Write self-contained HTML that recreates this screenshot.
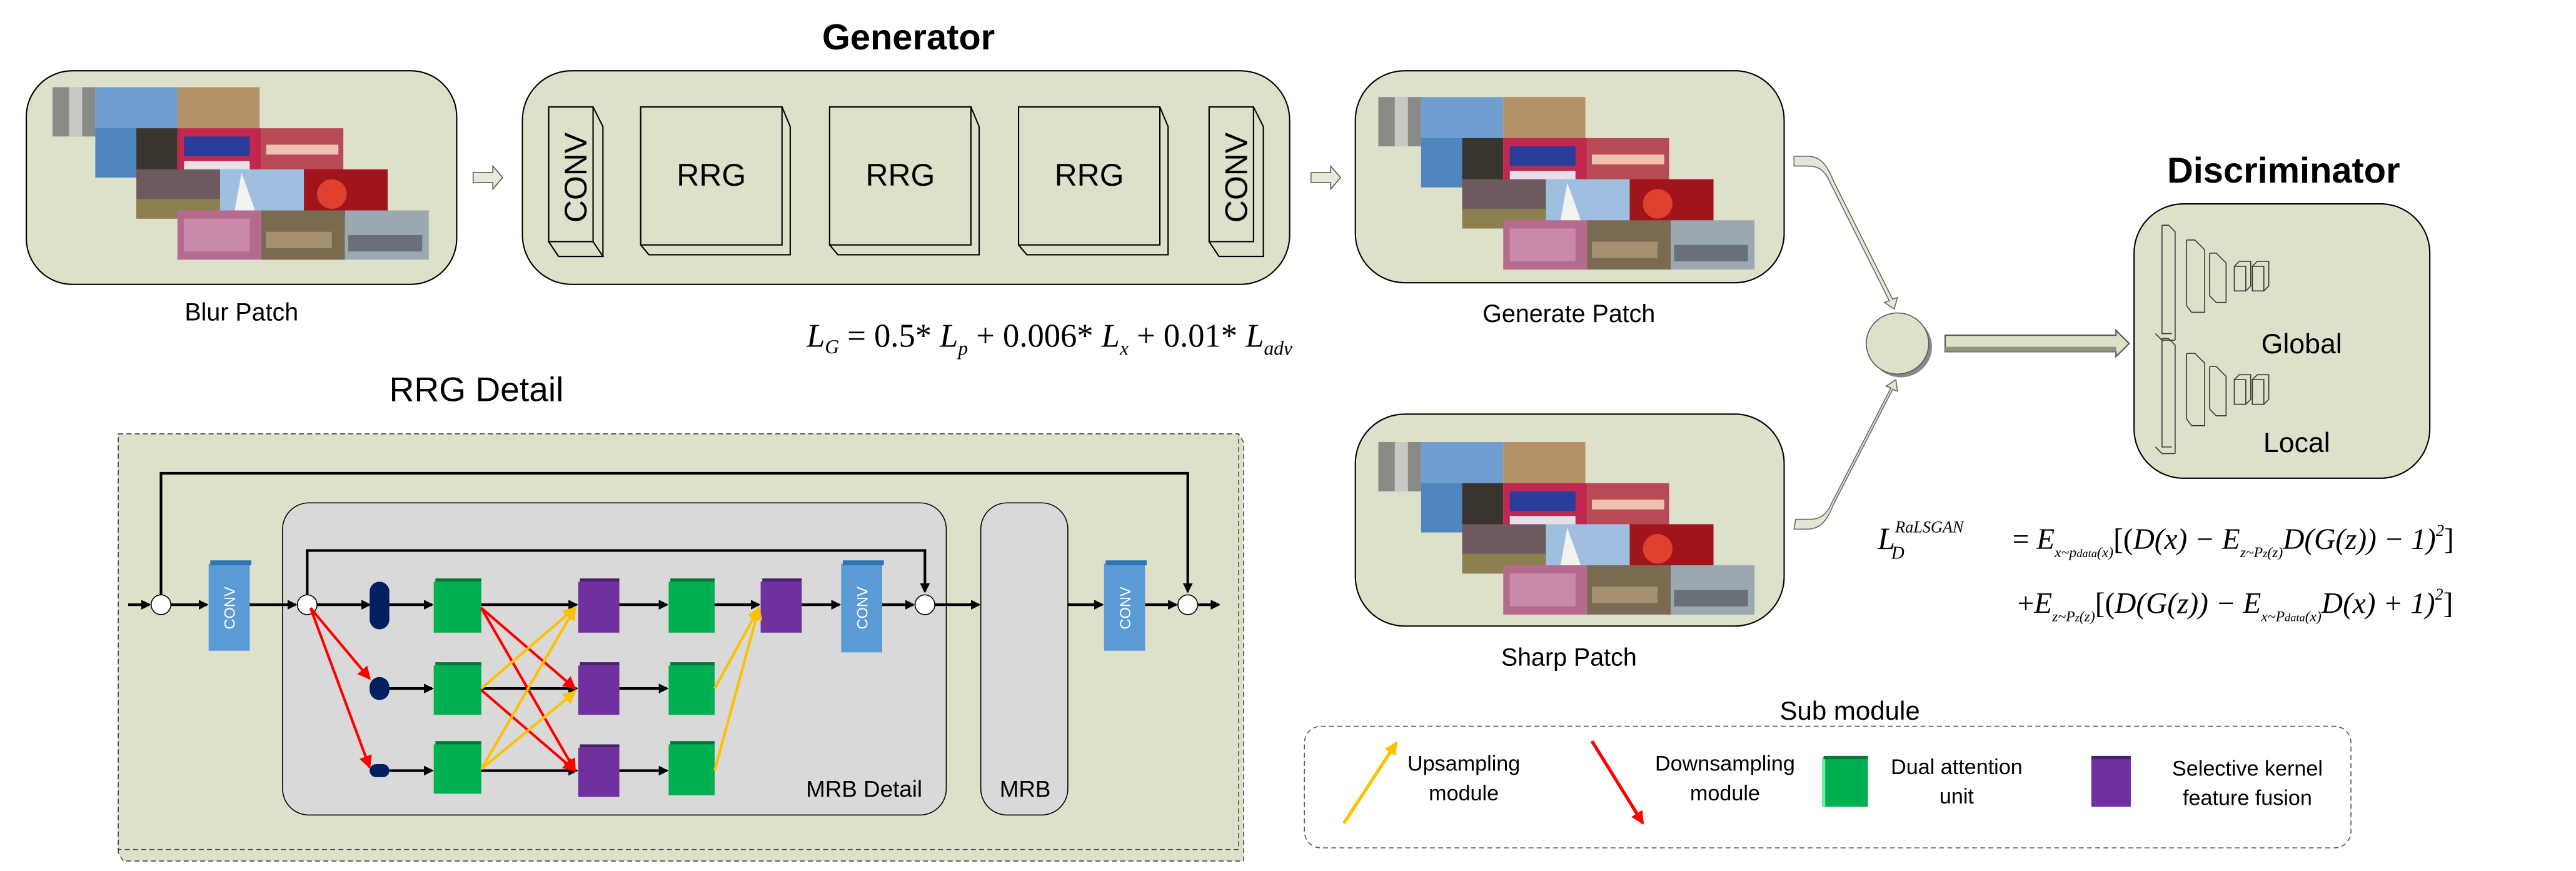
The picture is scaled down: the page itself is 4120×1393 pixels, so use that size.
<!DOCTYPE html>
<html><head><meta charset="utf-8"><style>
html,body{margin:0;padding:0;background:#fff}
svg{display:block}
text{font-family:"Liberation Sans",sans-serif}
.s{font-family:"Liberation Serif",serif;font-style:italic}
</style></head><body>
<svg width="4120" height="1393" viewBox="0 0 1568 530" xmlns="http://www.w3.org/2000/svg">
<defs>
<marker id="ab" markerWidth="6" markerHeight="6" refX="5" refY="3" orient="auto" markerUnits="userSpaceOnUse"><path d="M0,0L6,3L0,6z" fill="#000"/></marker>
<marker id="ar" markerWidth="8" markerHeight="8" refX="7" refY="4" orient="auto" markerUnits="userSpaceOnUse"><path d="M0,0L8,4L0,8z" fill="#f00"/></marker>
<marker id="ao" markerWidth="8" markerHeight="8" refX="7" refY="4" orient="auto" markerUnits="userSpaceOnUse"><path d="M0,0L8,4L0,8z" fill="#ffc000"/></marker>
<g id="mosaic">
<rect x="0" y="0" width="26" height="30" fill="#8a8a86"/><rect x="10" y="0" width="8" height="30" fill="#c8c8c4"/>
<rect x="26" y="0" width="50" height="30" fill="#6f9fd0"/>
<rect x="76" y="0" width="50" height="30" fill="#b5916a"/>
<rect x="26" y="25" width="25" height="30" fill="#4f86c0"/><rect x="51" y="25" width="25" height="30" fill="#3a342f"/>
<rect x="76" y="25" width="51" height="30" fill="#c0284f"/><rect x="80" y="30" width="40" height="12" fill="#2b3d9a"/><rect x="80" y="45" width="40" height="8" fill="#e8e0e8"/>
<rect x="127" y="25" width="50" height="30" fill="#b84a55"/><rect x="130" y="35" width="44" height="6" fill="#f0c0b0"/>
<rect x="51" y="50" width="51" height="30" fill="#6e5a5e"/><rect x="51" y="68" width="51" height="12" fill="#8c8050"/>
<rect x="102" y="50" width="51" height="30" fill="#9fbfe0"/><path d="M115,52L125,80L110,80z" fill="#f2f2ee"/>
<rect x="153" y="50" width="51" height="30" fill="#a0141c"/><circle cx="170" cy="65" r="9" fill="#e04030"/>
<rect x="76" y="75" width="51" height="30" fill="#b56a90"/><rect x="80" y="80" width="40" height="20" fill="#c98aa8"/>
<rect x="127" y="75" width="51" height="30" fill="#7a6a52"/><rect x="130" y="88" width="40" height="10" fill="#a59070"/>
<rect x="178" y="75" width="51" height="30" fill="#9ca8b0"/><rect x="180" y="90" width="45" height="10" fill="#6a7078"/>
</g>
</defs>

<!-- titles -->
<text x="553" y="30" font-size="22" font-weight="bold" text-anchor="middle">Generator</text>
<text x="1390" y="111" font-size="22" font-weight="bold" text-anchor="middle">Discriminator</text>
<text x="290" y="244" font-size="21" text-anchor="middle">RRG Detail</text>

<!-- Blur patch -->
<rect x="16" y="43" width="262" height="130" rx="28" fill="#dee1ca" stroke="#000" stroke-width="0.8"/>
<use href="#mosaic" transform="translate(32,53) scale(1.0,1.0)"/>
<text x="147" y="195" font-size="15" text-anchor="middle">Blur Patch</text>
<path d="M288,105h12v-4l6,7l-6,7v-4h-12z" fill="#e8ead8" stroke="#555" stroke-width="0.6"/>

<!-- Generator -->
<rect x="318" y="43" width="467" height="130" rx="30" fill="#dee1ca" stroke="#000" stroke-width="0.8"/>
<g fill="#dee1ca" stroke="#000" stroke-width="0.8">
<path d="M334,65h27l6,12v79h-27l-6-9z"/><rect x="334" y="65" width="27" height="82"/><path d="M334,147l6,9h27l-6-9z"/>
<path d="M390,65h86l5,12v78h-86l-5-6z"/><rect x="390" y="65" width="86" height="84"/>
<path d="M505,65h86l5,12v78h-86l-5-6z"/><rect x="505" y="65" width="86" height="84"/>
<path d="M620,65h86l5,12v78h-86l-5-6z"/><rect x="620" y="65" width="86" height="84"/>
<path d="M736,65h27l6,12v79h-27l-6-9z"/><rect x="736" y="65" width="27" height="82"/>
</g>
<text transform="translate(357,108) rotate(-90)" font-size="19" text-anchor="middle">CONV</text>
<text transform="translate(759,108) rotate(-90)" font-size="19" text-anchor="middle">CONV</text>
<text x="433" y="113" font-size="19" text-anchor="middle">RRG</text>
<text x="548" y="113" font-size="19" text-anchor="middle">RRG</text>
<text x="663" y="113" font-size="19" text-anchor="middle">RRG</text>
<path d="M798,105h12v-4l6,7l-6,7v-4h-12z" fill="#e8ead8" stroke="#555" stroke-width="0.6"/>

<text x="491" y="211" class="s" font-size="20">L<tspan font-size="12" dy="4">G</tspan><tspan dy="-4" font-style="normal"> = 0.5* </tspan>L<tspan font-size="12" dy="5">p</tspan><tspan dy="-5" font-style="normal"> + 0.006* </tspan>L<tspan font-size="12" dy="5">x</tspan><tspan dy="-5" font-style="normal"> + 0.01* </tspan>L<tspan font-size="12" dy="5">adv</tspan></text>

<!-- Generate & Sharp -->
<rect x="825" y="43" width="261" height="129" rx="30" fill="#dee1ca" stroke="#000" stroke-width="0.8"/>
<use href="#mosaic" transform="translate(839,59)"/>
<text x="955" y="196" font-size="15" text-anchor="middle">Generate Patch</text>
<rect x="825" y="252" width="261" height="129" rx="30" fill="#dee1ca" stroke="#000" stroke-width="0.8"/>
<use href="#mosaic" transform="translate(839,269)"/>
<text x="955" y="405" font-size="15" text-anchor="middle">Sharp Patch</text>

<!-- curved arrows -->
<path d="M1092,95h8c8,0 12,5 16,15l36,72l3,-1l-2,7l-6,-4l3,-1l-36,-72c-3,-7 -7,-10 -13,-10h-9z" fill="#e3e6d2" stroke="#666" stroke-width="0.6"/>
<path d="M1092,322h8c8,0 12,-5 16,-15l36,-70l3,1l-1,-7l-6,4l3,1l-36,70c-3,7 -7,10 -13,10h-9z" fill="#e3e6d2" stroke="#666" stroke-width="0.6"/>
<ellipse cx="1157" cy="211" rx="19" ry="18.6" fill="#888"/>
<ellipse cx="1155" cy="209" rx="19" ry="18.6" fill="#dee1ca" stroke="#555" stroke-width="0.6"/>
<path d="M1184,204h104v-3l8,8l-8,8v-3h-104z" fill="#dee1ca" stroke="#555" stroke-width="0.8"/>
<rect x="1184" y="211" width="104" height="3" fill="#8f9480"/>

<!-- Discriminator -->
<rect x="1299" y="124" width="180" height="167" rx="30" fill="#dee1ca" stroke="#000" stroke-width="0.8"/>
<g fill="none" stroke="#333" stroke-width="0.6">
<path d="M1316,137v66h6M1316,137h4l4,4v66M1324,207h-8l-4,-4"/>
<path d="M1331,146v40M1331,146h5l6,6v38h-8l-3,-4"/>
<path d="M1345,154v26M1345,154h4l6,6v24h-6l-4,-4"/>
<rect x="1360" y="162" width="7" height="15"/><path d="M1360,162l3,-3h7v15l-3,3"/>
<rect x="1371" y="162" width="7" height="15"/><path d="M1371,162l3,-3h7v15l-3,3"/>
<path d="M1316,206v66h6M1316,206h4l4,4v66M1324,276h-8l-4,-4"/>
<path d="M1331,215v40M1331,215h5l6,6v38h-8l-3,-4"/>
<path d="M1345,223v26M1345,223h4l6,6v24h-6l-4,-4"/>
<rect x="1360" y="231" width="7" height="15"/><path d="M1360,231l3,-3h7v15l-3,3"/>
<rect x="1371" y="231" width="7" height="15"/><path d="M1371,231l3,-3h7v15l-3,3"/>
</g>
<text x="1401" y="215" font-size="17" text-anchor="middle">Global</text>
<text x="1398" y="275" font-size="17" text-anchor="middle">Local</text>

<!-- LD formula -->
<text x="1143" y="334" class="s" font-size="19">L<tspan font-size="10" dy="-10">RaLSGAN</tspan><tspan font-size="11" dx="-44" dy="16">D</tspan></text>
<text x="1225" y="334" class="s" font-size="18"><tspan font-style="normal">= </tspan>E<tspan font-size="9" dy="5">x~p<tspan font-size="7">data</tspan>(x)</tspan><tspan dy="-5" font-style="normal">[(</tspan>D(x) − E<tspan font-size="9" dy="5">z~P<tspan font-size="7">z</tspan>(z)</tspan><tspan dy="-5">D(G(z)) − 1)</tspan><tspan font-size="10" dy="-8">2</tspan><tspan dy="8" font-style="normal">]</tspan></text>
<text x="1228" y="373" class="s" font-size="18"><tspan font-style="normal">+</tspan>E<tspan font-size="9" dy="5">z~P<tspan font-size="7">z</tspan>(z)</tspan><tspan dy="-5" font-style="normal">[(</tspan>D(G(z)) − E<tspan font-size="9" dy="5">x~P<tspan font-size="7">data</tspan>(x)</tspan><tspan dy="-5">D(x) + 1)</tspan><tspan font-size="10" dy="-8">2</tspan><tspan dy="8" font-style="normal">]</tspan></text>

<!-- Sub module -->
<text x="1126" y="438" font-size="16" text-anchor="middle">Sub module</text>
<rect x="794" y="442" width="637" height="74" rx="10" fill="none" stroke="#555" stroke-width="0.6" stroke-dasharray="3,2"/>
<line x1="818" y1="501" x2="850" y2="452" stroke="#ffc000" stroke-width="2" marker-end="url(#ao)"/>
<text x="891" y="469" font-size="13" text-anchor="middle">Upsampling</text>
<text x="891" y="487" font-size="13" text-anchor="middle">module</text>
<line x1="969" y1="451" x2="1000" y2="501" stroke="#f00" stroke-width="2" marker-end="url(#ar)"/>
<text x="1050" y="469" font-size="13" text-anchor="middle">Downsampling</text>
<text x="1050" y="487" font-size="13" text-anchor="middle">module</text>
<rect x="1110" y="461" width="27" height="30" fill="#00b050"/><rect x="1109" y="461" width="2" height="30" fill="#6ff0a0"/><rect x="1110" y="460" width="27" height="2" fill="#007a38"/>
<text x="1191" y="471" font-size="13" text-anchor="middle">Dual attention</text>
<text x="1191" y="489" font-size="13" text-anchor="middle">unit</text>
<rect x="1273" y="461" width="24" height="30" fill="#7030a0"/><rect x="1273" y="460" width="24" height="2" fill="#4a1f6e"/>
<text x="1368" y="472" font-size="13" text-anchor="middle">Selective kernel</text>
<text x="1368" y="490" font-size="13" text-anchor="middle">feature fusion</text>

<!-- RRG detail outer -->
<path d="M72,264h682l3,5v255h-682l-3,-5z" fill="#dee1ca" stroke="#444" stroke-width="0.6" stroke-dasharray="3,2"/>
<rect x="72" y="264" width="682" height="253" fill="#dee1ca" stroke="#444" stroke-width="0.6" stroke-dasharray="3,2"/>
<rect x="172" y="306" width="404" height="190" rx="16" fill="#d9d9d9" stroke="#000" stroke-width="0.6"/>
<rect x="597" y="306" width="53" height="190" rx="16" fill="#d9d9d9" stroke="#000" stroke-width="0.6"/>
<text x="526" y="485" font-size="14" text-anchor="middle">MRB Detail</text>
<text x="624" y="485" font-size="14" text-anchor="middle">MRB</text>

<g stroke="#000" stroke-width="1.6" fill="none">
<polyline points="98,362 98,288 723,288 723,360" marker-end="url(#ab)"/>
<polyline points="187,362 187,335 563,335 563,360" marker-end="url(#ab)"/>
<line x1="78" y1="368" x2="91" y2="368" marker-end="url(#ab)"/>
<line x1="104" y1="368" x2="126" y2="368" marker-end="url(#ab)"/>
<line x1="152" y1="368" x2="180" y2="368" marker-end="url(#ab)"/>
<line x1="193" y1="368" x2="225" y2="368" marker-end="url(#ab)"/>
<line x1="237" y1="368" x2="263" y2="368" marker-end="url(#ab)"/>
<line x1="293" y1="368" x2="351" y2="368" marker-end="url(#ab)"/>
<line x1="377" y1="368" x2="406" y2="368" marker-end="url(#ab)"/>
<line x1="435" y1="368" x2="462" y2="368" marker-end="url(#ab)"/>
<line x1="488" y1="368" x2="511" y2="368" marker-end="url(#ab)"/>
<line x1="536" y1="368" x2="556" y2="368" marker-end="url(#ab)"/>
<line x1="569" y1="368" x2="596" y2="368" marker-end="url(#ab)"/>
<line x1="650" y1="368" x2="671" y2="368" marker-end="url(#ab)"/>
<line x1="697" y1="368" x2="716" y2="368" marker-end="url(#ab)"/>
<line x1="729" y1="368" x2="742" y2="368" marker-end="url(#ab)"/>
<line x1="237" y1="419" x2="263" y2="419" marker-end="url(#ab)"/>
<line x1="293" y1="419" x2="351" y2="419" marker-end="url(#ab)"/>
<line x1="377" y1="419" x2="406" y2="419" marker-end="url(#ab)"/>
<line x1="237" y1="469" x2="263" y2="469" marker-end="url(#ab)"/>
<line x1="293" y1="469" x2="351" y2="469" marker-end="url(#ab)"/>
<line x1="377" y1="469" x2="406" y2="469" marker-end="url(#ab)"/>
</g>
<g fill="#fff" stroke="#000" stroke-width="0.6">
<ellipse cx="98" cy="368" rx="6" ry="6"/><ellipse cx="187" cy="368" rx="6" ry="6"/>
<ellipse cx="563" cy="368" rx="6" ry="6"/><ellipse cx="723" cy="368" rx="6" ry="6"/>
</g>
<g fill="#002060">
<rect x="225" y="354" width="12" height="29" rx="6"/>
<rect x="225" y="412" width="12" height="14" rx="6"/>
<rect x="225" y="465" width="12" height="8" rx="4"/>
</g>
<!-- blocks -->
<g>
<rect x="127" y="343" width="25" height="53" fill="#5b9bd5"/><rect x="128" y="341" width="25" height="3" fill="#2e75b6"/>
<rect x="512" y="343" width="25" height="54" fill="#5b9bd5"/><rect x="513" y="341" width="25" height="3" fill="#2e75b6"/>
<rect x="672" y="343" width="25" height="53" fill="#5b9bd5"/><rect x="673" y="341" width="25" height="3" fill="#2e75b6"/>
</g>
<g fill="#00b050"><rect x="264" y="354" width="29" height="31"/><rect x="264" y="405" width="29" height="30"/><rect x="264" y="453" width="29" height="30"/>
<rect x="407" y="354" width="28" height="31"/><rect x="407" y="405" width="28" height="30"/><rect x="407" y="453" width="28" height="31"/></g>
<g fill="#007a38"><rect x="265" y="352" width="28" height="2"/><rect x="265" y="403" width="28" height="2"/><rect x="265" y="451" width="28" height="2"/><rect x="408" y="352" width="27" height="2"/><rect x="408" y="403" width="27" height="2"/><rect x="408" y="451" width="27" height="2"/></g>
<g fill="#7030a0"><rect x="352" y="354" width="25" height="31"/><rect x="352" y="405" width="25" height="30"/><rect x="352" y="455" width="25" height="30"/><rect x="463" y="354" width="25" height="31"/></g>
<g fill="#4a1f6e"><rect x="353" y="352" width="24" height="2"/><rect x="353" y="403" width="24" height="2"/><rect x="353" y="453" width="24" height="2"/><rect x="464" y="352" width="24" height="2"/></g>
<g fill="#fff" font-size="9" text-anchor="middle">
<text transform="translate(143,370) rotate(-90)">CONV</text>
<text transform="translate(528,370) rotate(-90)">CONV</text>
<text transform="translate(688,370) rotate(-90)">CONV</text>
</g>
<!-- red/orange -->
<g stroke="#f00" stroke-width="1.6">
<line x1="189" y1="370" x2="225" y2="413" marker-end="url(#ar)"/>
<line x1="189" y1="370" x2="225" y2="467" marker-end="url(#ar)"/>
<line x1="293" y1="370" x2="350" y2="419" marker-end="url(#ar)"/>
<line x1="293" y1="370" x2="350" y2="469" marker-end="url(#ar)"/>
<line x1="293" y1="420" x2="350" y2="469" marker-end="url(#ar)"/>
</g>
<g stroke="#ffc000" stroke-width="1.6">
<line x1="293" y1="419" x2="350" y2="370" marker-end="url(#ao)"/>
<line x1="293" y1="468" x2="350" y2="370" marker-end="url(#ao)"/>
<line x1="293" y1="468" x2="350" y2="421" marker-end="url(#ao)"/>
<line x1="435" y1="419" x2="462" y2="370" marker-end="url(#ao)"/>
<line x1="435" y1="469" x2="462" y2="370" marker-end="url(#ao)"/>
</g>
</svg>
</body></html>
